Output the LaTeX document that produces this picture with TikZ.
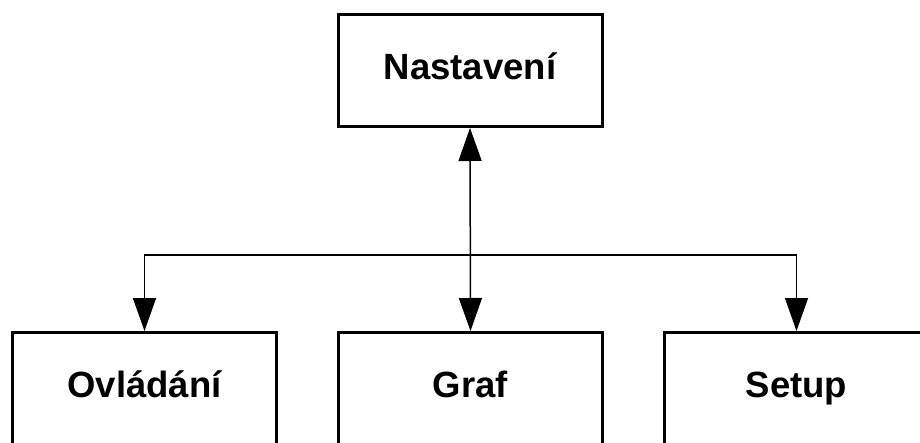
\documentclass[tikz,border=0pt]{standalone}
\usepackage{fontspec}
\setmainfont{Liberation Sans}
\usetikzlibrary{arrows.meta}
\tikzset{
  box/.style={draw=black, line width=3pt, minimum width=264pt, minimum height=112pt,
    inner sep=0pt, text height=26pt, text depth=8pt,
    font=\fontsize{36.5}{40}\selectfont\bfseries, fill=white},
  conn/.style={line width=1.5pt, draw=black},
  tip/.style={-{Triangle[width=23pt,length=33pt]}},
  tips/.style={{Triangle[width=23pt,length=33pt]}-{Triangle[width=23pt,length=33pt]}}
}
\begin{document}
\begin{tikzpicture}[x=1pt,y=1pt]
\useasboundingbox (0,0) rectangle (920,442);
\clip (0,0) rectangle (920,442);
\fill[white] (0,0) rectangle (920,442);
\node[box] (top) at (470,371.5) {Nastavení};
\node[box] (ovl) at (144.5,53.5) {Ovládání};
\node[box] (graf) at (470.5,53.5) {Graf};
\node[box] (setup) at (796.5,53.5) {Setup};
\coordinate (j) at (470.5,187);
\draw[conn,tips] (top.south) -- (graf.north);
\draw[conn,tip] (j) -| (ovl.north);
\draw[conn,tip] (j) -| (setup.north);
\end{tikzpicture}
\end{document}
